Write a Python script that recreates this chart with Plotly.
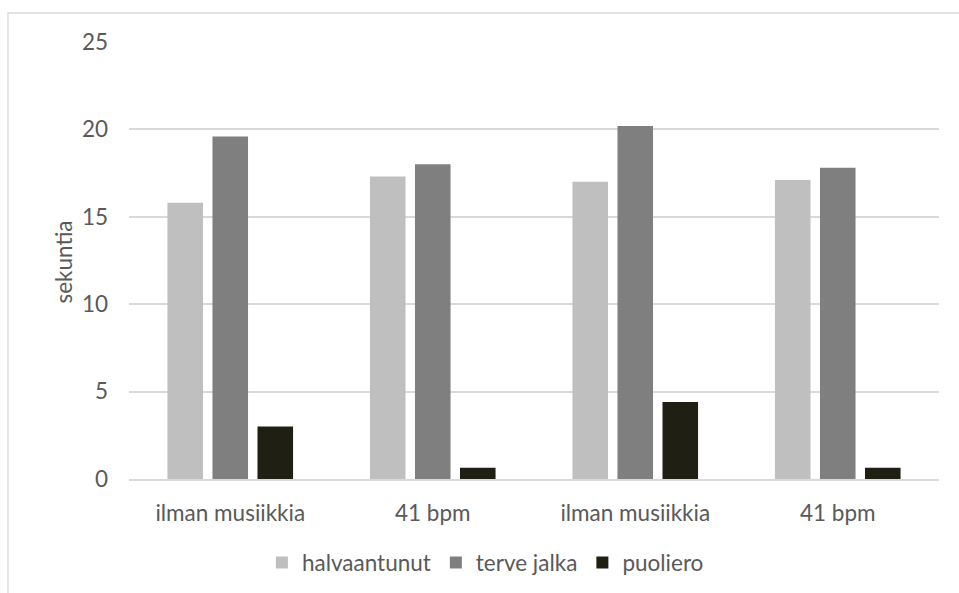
import plotly.graph_objects as go

# Test conditions (x categories) and times in seconds
categories = ["ilman musiikkia", "41 bpm", "ilman musiikkia ", "41 bpm "]
tick_labels = ["ilman musiikkia", "41 bpm", "ilman musiikkia", "41 bpm"]

halvaantunut = [15.8, 17.3, 17.0, 17.1]
terve_jalka = [19.6, 18.0, 20.2, 17.8]
puoliero = [3.0, 0.65, 4.4, 0.65]

series_names = ["halvaantunut", "terve jalka", "puoliero"]
series_values = [halvaantunut, terve_jalka, puoliero]
series_colors = ["#BFBFBF", "#7F7F7F", "#201F14"]
y_title = "sekuntia"

FONT = "Lato, 'Open Sans', sans-serif"
SIZE = 22.5
TEXT = "#595959"
GRID = "#D9D9D9"

fig = go.Figure()
for name, vals, col in zip(series_names, series_values, series_colors):
    fig.add_trace(go.Bar(
        x=categories, y=vals, name=name,
        marker=dict(color=col, line=dict(width=0)),
    ))

fig.update_layout(
    width=959, height=593,
    margin=dict(l=129, r=20, t=42, b=114, autoexpand=False),
    paper_bgcolor="white", plot_bgcolor="white",
    barmode="group", bargap=0.333, bargroupgap=0.21,
    font=dict(family=FONT, size=SIZE, color=TEXT),
    showlegend=True,
    legend=dict(
        orientation="h", x=0.44, xanchor="center", y=-0.192, yanchor="middle",
        font=dict(family=FONT, size=SIZE, color=TEXT),
        itemwidth=30, traceorder="normal", itemclick=False,
    ),
    xaxis=dict(
        tickmode="array", tickvals=categories, ticktext=tick_labels,
        showgrid=False, showline=True, linecolor=GRID, linewidth=1.5,
        ticks="", ticklabelstandoff=13,
        tickfont=dict(family=FONT, size=SIZE, color=TEXT),
    ),
    yaxis=dict(
        range=[0, 25], tickvals=[0, 5, 10, 15, 20, 25],
        showgrid=True, gridcolor=GRID, gridwidth=1.5,
        zeroline=False, showline=False, ticks="", ticklabelstandoff=20,
        tickfont=dict(family=FONT, size=SIZE, color=TEXT),
    ),
    # rotated axis title placed beside the tick labels
    annotations=[dict(
        text=y_title, textangle=-90, showarrow=False,
        xref="paper", yref="paper", x=-0.0806, y=0.497,
        xanchor="center", yanchor="middle",
        font=dict(family=FONT, size=SIZE, color=TEXT),
    )],
    shapes=[dict(
        type="rect", xref="paper", yref="paper",
        x0=-0.1494, x1=1.05, y0=-0.35, y1=1.0664,
        line=dict(color=GRID, width=1.3), fillcolor="rgba(0,0,0,0)",
        layer="below",
    )],
)

fig.write_html("out.html")
